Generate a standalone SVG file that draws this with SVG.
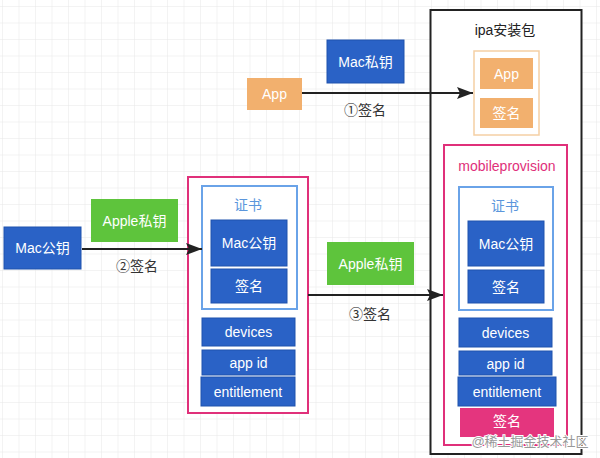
<svg xmlns="http://www.w3.org/2000/svg" width="600" height="458" viewBox="0 0 600 458">
<defs>
<pattern id="grid" x="2" y="6" width="16.5" height="16.5" patternUnits="userSpaceOnUse">
<path d="M0 0H16.5M0 0V16.5" fill="none" stroke="#e8e8e8" stroke-width="1"/>
</pattern>
<marker id="arr" viewBox="0 0 16 12" refX="16" refY="6" markerWidth="16" markerHeight="12" markerUnits="userSpaceOnUse" orient="auto">
<path d="M0 0L16 6L0 12L3 6Z" fill="#222"/>
</marker>
<style>
text{font-family:"Liberation Sans","Noto Sans CJK SC",sans-serif;font-size:14px;text-anchor:middle;dominant-baseline:central}
.w{fill:#fff}
.blue{fill:#2a62c6;stroke:#1f52ad;stroke-width:1}
.green{fill:#5ec43c}
.orange{fill:#f2b06e}
.pinkf{fill:#e4357e}
.pinkb{fill:#fff;stroke:#e0307a;stroke-width:2}
.certb{fill:#fff;stroke:#6aa3e8;stroke-width:2}
.lbl{fill:#333}
.conn{stroke:#222;stroke-width:2;fill:none;marker-end:url(#arr)}
</style>
</defs>
<rect width="600" height="458" fill="#fff"/>
<rect width="600" height="458" fill="url(#grid)"/>

<g id="ipa">
<rect x="430.5" y="10" width="151" height="444" fill="#fff" stroke="#222" stroke-width="2"/>
<text x="505" y="30" fill="#222">ipa安装包</text>
</g>
<g id="ipa-app-group">
<rect x="474" y="51" width="65" height="84" fill="#fff" stroke="#f5cfa4" stroke-width="1.5"/>
<rect x="480" y="58" width="53" height="31" class="orange"/>
<text x="506.5" y="73.5" class="w">App</text>
<rect x="480" y="98" width="53" height="30" class="orange"/>
<text x="506.5" y="113" class="w">签名</text>
</g>
<g id="mac-private">
<rect x="327" y="40" width="77" height="43" class="blue"/>
<text x="365.5" y="61.5" class="w">Mac私钥</text>
</g>
<g id="app">
<rect x="247" y="78" width="55" height="32" class="orange"/>
<text x="274.5" y="94" class="w">App</text>
</g>

<g id="mac-public">
<rect x="4" y="227" width="77" height="42" class="blue"/>
<text x="42.5" y="248" class="w">Mac公钥</text>
</g>
<g id="apple-private-1">
<rect x="91" y="199" width="87" height="43" class="green"/>
<text x="134.5" y="220.5" class="w">Apple私钥</text>
</g>

<g id="cert-left">
<rect x="188" y="177" width="120" height="236" class="pinkb"/>
<rect x="202" y="186" width="95" height="123" class="certb"/>
<text x="248" y="205" fill="#5b96dc">证书</text>
<rect x="211" y="220" width="76" height="46" class="blue"/>
<text x="249" y="243" class="w">Mac公钥</text>
<rect x="211" y="269" width="76" height="34" class="blue"/>
<text x="249" y="286" class="w">签名</text>
<rect x="202" y="318" width="93" height="28" class="blue"/>
<text x="248.5" y="332" class="w">devices</text>
<rect x="202" y="350" width="93" height="25" class="blue"/>
<text x="248.5" y="363" class="w">app id</text>
<rect x="201" y="377" width="94" height="29" class="blue"/>
<text x="248" y="391.5" class="w">entitlement</text>
</g>

<g id="apple-private-2">
<rect x="327" y="242" width="87" height="43" class="green"/>
<text x="370.5" y="263.5" class="w">Apple私钥</text>
</g>

<g id="mobileprovision">
<rect x="444" y="145" width="123" height="300" class="pinkb"/>
<text x="507" y="166" fill="#e0307a">mobileprovision</text>
<rect x="459" y="187" width="94" height="123" class="certb"/>
<text x="505" y="206" fill="#5b96dc">证书</text>
<rect x="468" y="221" width="76" height="45" class="blue"/>
<text x="506" y="243.5" class="w">Mac公钥</text>
<rect x="468" y="270" width="76" height="33" class="blue"/>
<text x="506" y="286.5" class="w">签名</text>
<rect x="459" y="318" width="93" height="29" class="blue"/>
<text x="505.5" y="332.5" class="w">devices</text>
<rect x="459" y="351" width="93" height="24" class="blue"/>
<text x="505.5" y="364" class="w">app id</text>
<rect x="458" y="377" width="98" height="29" class="blue"/>
<text x="507" y="391.5" class="w">entitlement</text>
<rect x="460" y="408" width="94" height="29" class="pinkf"/>
<text x="507" y="421" class="w">签名</text>
</g>

<g id="connectors">
<line x1="302" y1="93" x2="473" y2="93" class="conn"/>
<text x="365" y="110" class="lbl">①签名</text>
<line x1="82" y1="249" x2="202" y2="249" class="conn"/>
<text x="137" y="266" class="lbl">②签名</text>
<line x1="308" y1="295" x2="443" y2="295" class="conn"/>
<text x="370" y="314" class="lbl">③签名</text>
</g>

<text x="530" y="441" fill="#999" stroke="#fff" stroke-width="2" paint-order="stroke" style="font-size:13px">@稀土掘金技术社区</text>
</svg>
